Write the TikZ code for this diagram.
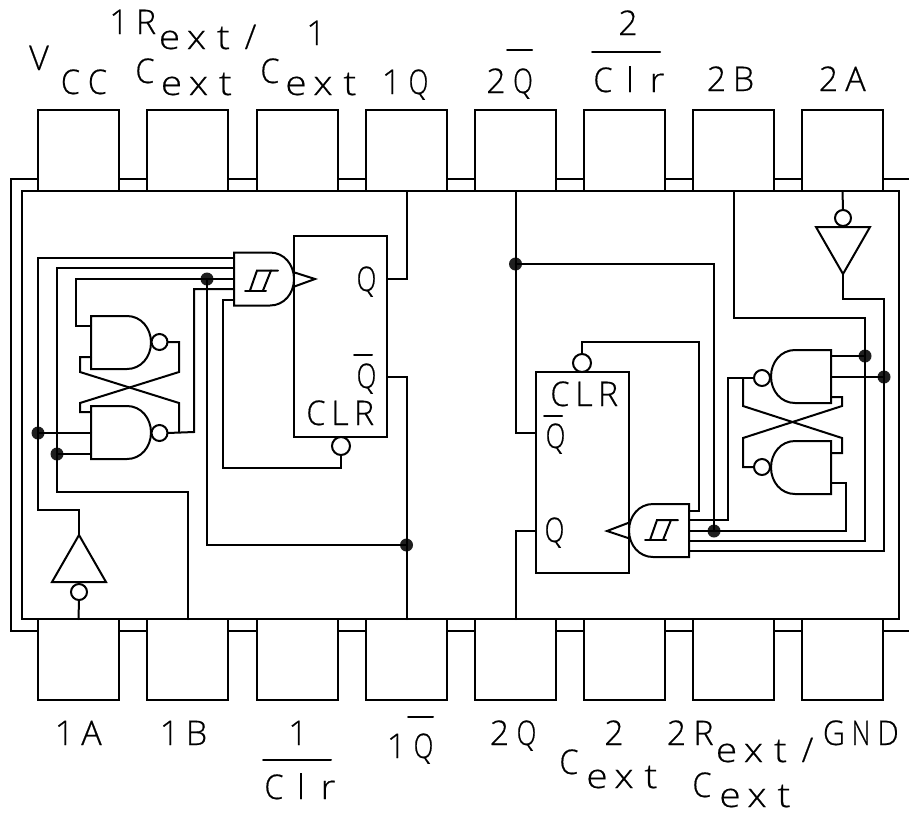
\documentclass[tikz,border=0pt]{standalone}
\usepackage{fontspec}
\setmainfont{Open Sans Light}[FakeBold=0.5]
\newfontfamily\qfont{Open Sans Light}[FakeStretch=0.76,FakeBold=0.5]
\newfontfamily\capfont{Open Sans Light}[FakeStretch=0.9,FakeBold=0.5]
\newfontfamily\lowfont{Open Sans Light}[FakeStretch=1.14,FakeBold=0.5]
\newdimen\lblpitch
\def\pickfont#1{\ifx#1Q\qfont\fi\ifx#1N\qfont\fi\ifx#1C\capfont\fi\ifx#1G\capfont\fi\ifx#1D\capfont\fi\ifx#1e\lowfont\fi\ifx#1x\lowfont\fi\ifx#1t\lowfont\fi\ifx#1r\lowfont\fi}
\def\pitchloop#1{\ifx#1\relax\else\makebox[\lblpitch][c]{\pickfont#1#1}\expandafter\pitchloop\fi}
\newcommand{\lbl}[5][27pt]{\node[lab] (#2) at (#3,#4) {\lblpitch=#1\relax\pitchloop#5\relax};}
\tikzset{
  x=1pt,y=-1pt,
  every path/.style={line width=2pt,line join=miter,line cap=round},
  lab/.style={anchor=base,inner sep=0pt,outer sep=0pt,font=\fontsize{34pt}{34pt}\selectfont},
  pinbox/.style={draw,fill=white,minimum width=81pt,minimum height=81pt,inner sep=0pt,outer sep=0pt},
  ffbox/.style={draw,fill=white,minimum width=93pt,minimum height=201pt,inner sep=0pt,outer sep=0pt},
  bub/.style={circle,draw,fill=white,minimum size=17pt,inner sep=0pt,outer sep=0pt},
  jdot/.style={circle,fill=black!88,draw=none,minimum size=13pt,inner sep=0pt,outer sep=0pt},
  pics/dgate/.style={code={
    \draw[fill=white] (0,0) -- (36,0) .. controls (50,0) and (60,12) .. (60,26.5)
      .. controls (60,41) and (50,53) .. (36,53) -- (0,53) -- cycle;}},
  pics/schmitt/.style={code={
    \draw (44,18) -- (23,18) -- (16,38);
    \draw (37,18) -- (29,38);
    \draw (11,38) -- (32,38);}},
}
\begin{document}
\begin{tikzpicture}
\useasboundingbox (0,0) rectangle (909,815);
% package outline
\draw (909,179) -- (11,179) -- (11,631) -- (909,631);
\draw (22,191) rectangle (899,619);
% pins
\foreach \n/\cx in {pVCC/78.5,pORC/187.5,pOC/297,pOQ/406.5,pTQb/515.5,pTClr/624.5,pTB/733.5,pTA/842.5}
  \node[pinbox] (\n) at (\cx,150.5) {};
\foreach \n/\cx in {pOA/78.5,pOB/187.5,pOClr/297,pOQb/406.5,pTQ/515.5,pTC/624.5,pTRC/733.5,pGND/842.5}
  \node[pinbox] (\n) at (\cx,659.5) {};

% ---- left half
\node[ffbox] (ffa) at (340.5,336.5) {};
\coordinate (ckaT) at (293,272);\coordinate (ckaM) at (315,279);\coordinate (ckaB) at (293,287);
\draw (ckaT) -- (ckaM) -- (ckaB);
\pic at (234,252.5) {dgate};
\pic at (234,252.5) {schmitt};
\pic at (91,316) {dgate};
\pic at (91,406) {dgate};
\node[bub,minimum size=16pt] (ba1) at (159.5,342) {};
\node[bub,minimum size=16pt] (ba2) at (159.5,433) {};
\node[bub,minimum size=18pt] (baclr) at (341,446) {};
\node[bub,minimum size=16pt] (baInv) at (79,592) {};
\coordinate (invaT) at (79,535);
\draw (invaT) -- (106,582) -- (52,582) -- cycle;
\node[jdot] (da1) at (38,433) {};
\node[jdot] (da2) at (57,454) {};
\node[jdot] (da3) at (207,279) {};
\node[jdot] (da4) at (406.5,545) {};
% wires, left
\draw (pOQ.south) -- (406.5,279) -- (ffa.east |- 0,279);
\draw (ffa.east |- 0,377) -- (406.5,377) -- (pOQb.north);
\draw (da4.center) -- (207,545) -- (da3.center);
\draw (234,279) -- (da3.center) -- (76,279) -- (76,326) -- (91,326);
\draw (234,258) -- (38,258) -- (38,510) -- (79,510) -- (invaT);
\draw (da1.center) -- (91,433);
\draw (234,268) -- (57,268) -- (57,492) -- (188,492) -- (188,619);
\draw (da2.center) -- (91,454);
\draw (234,289) -- (194,289) -- (194,432) -- (ba2.east);
\draw (234,300) -- (223,300) -- (223,468) -- (341,468) -- (baclr.south);
\draw (baInv.south) -- (pOA.north);
\draw (baInv.north) -- (79,582);
\draw (ba1.east) -- (179,342) -- (179,372) -- (80,403) -- (80,412) -- (91,412);
\draw (91,357) -- (80,357) -- (80,372) -- (179,403) -- (179,432);

% ---- right half
\node[ffbox] (ffb) at (582,472.5) {};
\coordinate (ckbT) at (628,523);\coordinate (ckbM) at (607,531);\coordinate (ckbB) at (628,538);
\draw (ckbT) -- (ckbM) -- (ckbB);
\pic[xscale=-1] at (689,504) {dgate};
\pic[xscale=-1] at (831,350) {dgate};
\pic[xscale=-1] at (831,441) {dgate};
\pic at (634,502) {schmitt};
\node[bub,minimum size=18pt] (bbclr) at (582,363) {};
\node[bub,minimum size=16pt] (bb1) at (762,378) {};
\node[bub,minimum size=16pt] (bb2) at (762,467) {};
\node[bub,minimum size=16pt] (bbInv) at (843,218) {};
\coordinate (invbB) at (843,274);
\draw (invbB) -- (870,227) -- (816,227) -- cycle;
\node[jdot] (db1) at (515.5,264) {};
\node[jdot] (db2) at (714,531) {};
\node[jdot] (db3) at (865,356) {};
\node[jdot] (db4) at (884,377) {};
% wires, right
\draw (pTQb.south) -- (515.5,433) -- (ffb.west |- 0,433);
\draw (ffb.west |- 0,531) -- (515.5,531) -- (pTQ.north);
\draw (db1.center) -- (714,264) -- (db2.center);
\draw (bbclr.north) -- (582,342) -- (699,342) -- (699,511) -- (689,511);
\draw (689,520) -- (728,520) -- (728,378) -- (bb1.west);
\draw (689,531) -- (db2.center) -- (846,531) -- (846,483) -- (831,483);
\draw (689,541) -- (865,541) -- (865,318) -- (733.5,318) -- (pTB.south);
\draw (689,551) -- (884,551) -- (884,299) -- (843,299) -- (invbB);
\draw (pTA.south) -- (bbInv.north);
\draw (bbInv.south) -- (843,227);
\draw (831,356) -- (db3.center);
\draw (831,377) -- (db4.center);
\draw (831,397) -- (842,397) -- (842,406) -- (743,438) -- (743,467) -- (bb2.west);
\draw (743,378) -- (743,406) -- (842,438) -- (842,453) -- (831,453);

% ---- labels, top
\lbl{tV}{39}{70}{V}
\lbl{tCC}{84}{94}{CC}
\lbl{tOR}{132.5}{34}{1R}
\lbl{text1}{210}{49}{ext/}
\lbl{tC1}{145}{83}{C}
\lbl{text2}{198.5}{95}{ext}
\lbl{tOne}{316}{45}{1}
\lbl{tC2}{270}{83}{C}
\lbl{text3}{323}{95}{ext}
\lbl{tOQ}{405}{94}{1Q}
\lbl{tTQ}{509.5}{93}{2Q}
\draw (507,50) -- (532,50);
\lbl{tTwo}{628}{35}{2}
\draw (592,52) -- (660,52);
\lbl{tClr}{630}{92}{Clr}
\lbl{tTB}{730}{91}{2B}
\lbl{tTA}{842}{91}{2A}
% labels, bottom
\lbl{bOA}{78}{745}{1A}
\lbl{bOB}{183}{745}{1B}
\lbl{bOne}{298}{745}{1}
\draw (263,760) -- (331,760);
\lbl{bClr}{301}{799}{Clr}
\lbl{bOQ}{410}{758}{1Q}
\draw (408,717) -- (433,717);
\lbl{bTQ}{513}{745}{2Q}
\lbl{bTwo}{614}{745}{2}
\lbl{bC1}{569}{774}{C}
\lbl{bext1}{624}{788}{ext}
\lbl{bTR}{690}{745}{2R}
\lbl{bext2}{767}{762}{ext/}
\lbl{bC2}{702}{797}{C}
\lbl{bext3}{757}{807}{ext}
\lbl{bGND}{861}{745}{GND}
% labels, inside
\lbl{iQa}{366.5}{291}{Q}
\lbl{iQba}{366.5}{388}{Q}
\draw (354,355) -- (372,355);
\lbl[24pt]{iCLRa}{340}{425}{CLR}
\lbl[24pt]{iCLRb}{584}{406}{CLR}
\lbl{iQbb}{555.5}{448}{Q}
\draw (544,416) -- (562,416);
\lbl{iQb}{554.5}{542}{Q}
\end{tikzpicture}
\end{document}
